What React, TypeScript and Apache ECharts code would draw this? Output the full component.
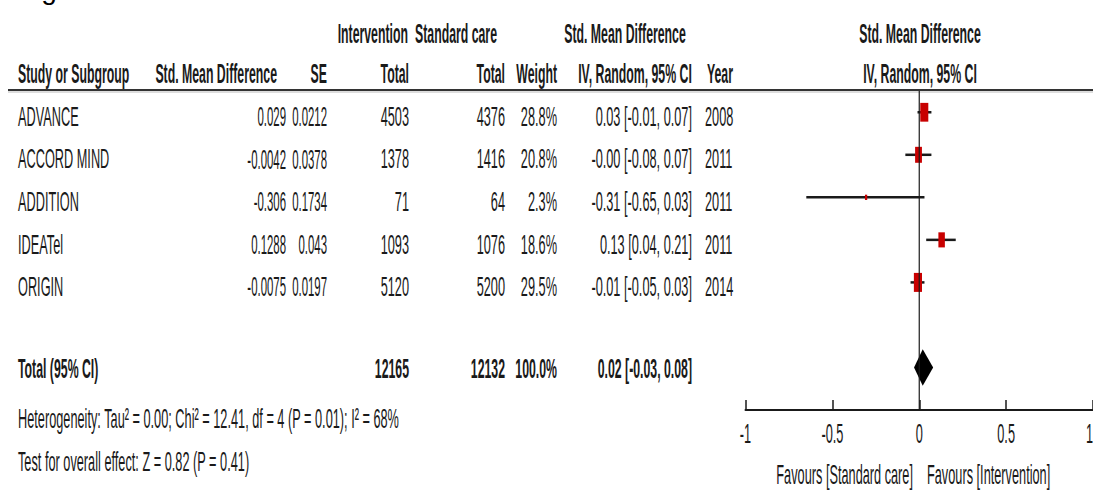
import React, { useEffect, useRef } from "react";
import * as echarts from "echarts";

// ---------- data ----------
const studies = ["ADVANCE", "ACCORD MIND", "ADDITION", "IDEATel", "ORIGIN"];
const smdText = ["0.029", "-0.0042", "-0.306", "0.1288", "-0.0075"];
const seText = ["0.0212", "0.0378", "0.1734", "0.043", "0.0197"];
const smdValues = [0.029, -0.0042, -0.306, 0.1288, -0.0075];
const interventionTotals = [4503, 1378, 71, 1093, 5120];
const standardTotals = [4376, 1416, 64, 1076, 5200];
const weights = [28.8, 20.8, 2.3, 18.6, 29.5];
const ciLow = [-0.01, -0.08, -0.65, 0.04, -0.05];
const ciHigh = [0.07, 0.07, 0.03, 0.21, 0.03];
const ciText = [
  "0.03 [-0.01, 0.07]",
  "-0.00 [-0.08, 0.07]",
  "-0.31 [-0.65, 0.03]",
  "0.13 [0.04, 0.21]",
  "-0.01 [-0.05, 0.03]",
];
const years = [2008, 2011, 2011, 2011, 2014];
const rowPositions = [0.5, 1.5, 2.5, 3.5, 4.5];

const totalEstimate = 0.02;
const totalLow = -0.03;
const totalHigh = 0.08;
const totalRow = 6.5;
const totalIntervention = 12165;
const totalStandard = 12132;
const totalWeight = "100.0%";
const totalCiText = "0.02 [-0.03, 0.08]";

const xTicks = [-1, -0.5, 0, 0.5, 1];
const xTickLabels = ["-1", "-0.5", "0", "0.5", "1"];

const heterogeneity =
  "Heterogeneity: Tau² = 0.00; Chi² = 12.41, df = 4 (P = 0.01); I² = 68%";
const overallTest = "Test for overall effect: Z = 0.82 (P = 0.41)";

// ---------- style ----------
const FONT = "Liberation Sans";
const FS = 15;
const SX = 0.85;
const SXB = 0.82;
const SXN = 0.76;
const SY = 1.9;
const INK = "#1a1a1a";

function txt(
  text: string,
  x: number,
  y: number,
  align: "left" | "right" | "center",
  bold = false,
  sx?: number
) {
  return {
    type: "text",
    x,
    y,
    scaleX: sx ?? (bold ? SXB : SX),
    scaleY: SY,
    silent: true,
    style: {
      text,
      align,
      verticalAlign: "middle",
      textAlign: align,
      textVerticalAlign: "middle",
      fontFamily: FONT,
      fontSize: FS,
      fontWeight: bold ? "bold" : "normal",
      fill: INK,
    },
  };
}

export default function App() {
  const ref = useRef<HTMLDivElement | null>(null);

  useEffect(() => {
    if (!ref.current) return;
    const chart = echarts.init(ref.current, null, { renderer: "svg" });

    const studyData = studies.map((_, i) => [
      smdValues[i],
      ciLow[i],
      ciHigh[i],
      rowPositions[i],
      weights[i],
    ]);

    chart.setOption({
      animation: false,
      grid: { left: 745.5, right: -4.5, top: 91, bottom: 83 },
      xAxis: {
        type: "value",
        min: -1,
        max: 1,
        interval: 0.5,
        axisLine: { show: true, onZero: false, lineStyle: { color: INK, width: 2 } },
        axisTick: { show: true, inside: true, length: 10, lineStyle: { color: INK, width: 1.5 } },
        axisLabel: { show: false },
        splitLine: { show: false },
      },
      yAxis: { type: "value", min: 0, max: 7.5, inverse: true, show: false },
      series: [
        {
          type: "line",
          data: [
            [0, 0],
            [0, 7.5],
          ],
          symbol: "none",
          silent: true,
          lineStyle: { color: INK, width: 1.2 },
        },
        {
          type: "custom",
          data: studyData,
          silent: true,
          renderItem: (params: any, api: any) => {
            const y = api.value(3);
            const c = api.coord([api.value(0), y]);
            const l = api.coord([api.value(1), y]);
            const h = api.coord([api.value(2), y]);
            const s = Math.sqrt(api.value(4));
            const w = 1.5 * s;
            const hh = 3.5 * s;
            return {
              type: "group",
              children: [
                {
                  type: "line",
                  shape: { x1: l[0], y1: l[1], x2: h[0], y2: h[1] },
                  style: { stroke: INK, lineWidth: 2.5 },
                },
                {
                  type: "rect",
                  shape: { x: c[0] - w / 2, y: c[1] - hh / 2, width: w, height: hh },
                  style: { fill: "#c80000" },
                },
              ],
            };
          },
        },
        {
          type: "custom",
          data: [[totalEstimate, totalLow, totalHigh, totalRow]],
          silent: true,
          renderItem: (params: any, api: any) => {
            const y = api.value(3);
            const e = api.value(0);
            const pts = [
              api.coord([api.value(1), y]),
              api.coord([e, y - 0.43]),
              api.coord([api.value(2), y]),
              api.coord([e, y + 0.43]),
            ];
            return {
              type: "polygon",
              shape: { points: pts },
              style: { fill: "#000" },
            };
          },
        },
      ],
    });

    const px = (v: number) => chart.convertToPixel({ xAxisIndex: 0 }, v) as number;
    const py = (v: number) => chart.convertToPixel({ yAxisIndex: 0 }, v) as number;

    const els: any[] = [];
    // partial caption at top-left (cut off in the reference)
    els.push({
      type: "text",
      x: 18,
      y: -11,
      silent: true,
      style: {
        text: "Fig",
        align: "left",
        verticalAlign: "middle",
        textAlign: "left",
        textVerticalAlign: "middle",
        fontFamily: FONT,
        fontSize: 28,
        fill: "#000",
      },
    });

    // header row 1
    els.push(txt("Intervention", 408, 33, "right", true));
    els.push(txt("Standard care", 415, 33, "left", true));
    els.push(txt("Std. Mean Difference", 625, 33, "center", true));
    els.push(txt("Std. Mean Difference", 920, 33, "center", true));
    // header row 2
    els.push(txt("Study or Subgroup", 18, 73, "left", true));
    els.push(txt("Std. Mean Difference", 277, 73, "right", true));
    els.push(txt("SE", 327, 73, "right", true));
    els.push(txt("Total", 409, 73, "right", true));
    els.push(txt("Total", 505, 73, "right", true));
    els.push(txt("Weight", 557, 73, "right", true));
    els.push(txt("IV, Random, 95% CI", 635, 73, "center", true));
    els.push(txt("Year", 707, 73, "left", true));
    els.push(txt("IV, Random, 95% CI", 920, 73, "center", true));

    // header rule
    els.push({
      type: "line",
      silent: true,
      shape: { x1: 8, y1: 90, x2: 1093, y2: 90 },
      style: { stroke: "#333", lineWidth: 2 },
    });
    els.push({
      type: "line",
      silent: true,
      shape: { x1: 8, y1: 92, x2: 1093, y2: 92 },
      style: { stroke: "#bbb", lineWidth: 1 },
    });

    // study rows
    studies.forEach((name, i) => {
      const y = py(rowPositions[i]) + 4;
      els.push(txt(name, 18, y, "left"));
      els.push(txt(smdText[i], 286, y, "right", false, SXN));
      els.push(txt(seText[i], 327, y, "right", false, SXN));
      els.push(txt(String(interventionTotals[i]), 409, y, "right"));
      els.push(txt(String(standardTotals[i]), 505, y, "right"));
      els.push(txt(weights[i].toFixed(1) + "%", 557, y, "right"));
      els.push(txt(ciText[i], 692, y, "right"));
      els.push(txt(String(years[i]), 705, y, "left"));
    });

    // total row
    const ty = py(totalRow) + 1;
    els.push(txt("Total (95% CI)", 18, ty, "left", true));
    els.push(txt(String(totalIntervention), 409, ty, "right", true));
    els.push(txt(String(totalStandard), 505, ty, "right", true));
    els.push(txt(totalWeight, 557, ty, "right", true));
    els.push(txt(totalCiText, 692, ty, "right", true));

    els.push(txt(heterogeneity, 18, 418, "left"));
    els.push(txt(overallTest, 18, 461, "left"));

    // tick labels (the last one is kept inside the page edge)
    xTicks.forEach((v, i) => {
      const x = px(v);
      if (x > 1088) els.push(txt(xTickLabels[i], 1093, 433, "right"));
      else els.push(txt(xTickLabels[i], x, 433, "center"));
    });
    els.push(txt("Favours [Standard care]", 913, 474, "right"));
    els.push(txt("Favours [Intervention]", 927, 474, "left"));

    chart.setOption({ graphic: { elements: els } });

    return () => chart.dispose();
  }, []);

  return (
    <div
      ref={ref}
      style={{ position: "absolute", left: 0, top: 0, width: "1093px", height: "493px", background: "#fff" }}
    />
  );
}
